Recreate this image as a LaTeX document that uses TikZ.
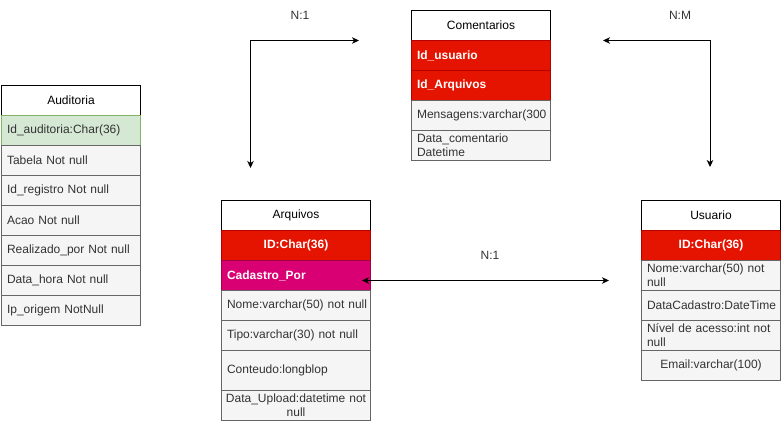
\documentclass[tikz,border=0pt]{standalone}
\usepackage{fontspec}
\setmainfont{Liberation Sans}
\usetikzlibrary{arrows.meta}
\definecolor{redfill}{HTML}{E51400}
\definecolor{redline}{HTML}{B20000}
\definecolor{magfill}{HTML}{D80073}
\definecolor{magline}{HTML}{A50040}
\definecolor{greenfill}{HTML}{D5E8D4}
\definecolor{greenline}{HTML}{82B366}
\definecolor{grayfill}{HTML}{F5F5F5}
\definecolor{grayline}{HTML}{666666}
\definecolor{txt}{HTML}{333333}
\begin{document}
\begin{tikzpicture}[x=1pt,y=-1pt,
  base/.style={anchor=north west, inner xsep=5.5pt, inner ysep=0pt, line width=1pt,
    font=\fontsize{12}{14}\selectfont, align=left},
  hdr/.style={base, draw=black, fill=white, text=black, align=center},
  row/.style={base, draw=grayline, fill=grayfill, text=txt},
  rowc/.style={row, align=center},
  pkg/.style={base, draw=greenline, fill=greenfill, text=txt},
  pk/.style={base, draw=redline, fill=redfill, text=white, font=\fontsize{12}{14}\selectfont\bfseries},
  pkc/.style={pk, align=center},
  fk/.style={base, draw=magline, fill=magfill, text=white, font=\fontsize{12}{14}\selectfont\bfseries},
  wA/.style={text width=128pt, minimum height=30pt},
  wB/.style={text width=138pt, minimum height=30pt},
  wBc/.style={inner xsep=0pt, text width=149pt, minimum height=30pt},
  tall/.style={minimum height=40pt},
  conn/.style={line width=1pt, {Stealth[length=7pt,width=6.5pt,inset=2pt]}-{Stealth[length=7pt,width=6.5pt,inset=2pt]}},
  lbl/.style={font=\fontsize{12}{14}\selectfont, text=txt, inner sep=0pt}
]
\useasboundingbox (0,0) rectangle (781,421);

% Auditoria
\node[hdr, wA] (aud) at (1,85) {Auditoria};
\node[pkg, wA] (aud1) at (1,115) {Id\_auditoria:Char(36)};
\node[row, wA] (aud2) at (1,145) {Tabela Not null};
\node[row, wA] (aud3) at (1,175) {Id\_registro Not null};
\node[row, wA] (aud4) at (1,205) {Acao Not null};
\node[row, wA] (aud5) at (1,235) {Realizado\_por Not null};
\node[row, wA] (aud6) at (1,265) {Data\_hora Not null};
\node[row, wA] (aud7) at (1,295) {Ip\_origem NotNull};

% Comentarios
\node[hdr, wA] (com) at (411,10) {Comentarios};
\node[pk, wA] (com1) at (411,40) {Id\_usuario};
\node[pk, wA] (com2) at (411,70) {Id\_Arquivos};
\node[row, wA] (com3) at (411,100) {\mbox{Mensagens:varchar(300}};
\node[row, wA] (com4) at (411,130) {Data\_comentario\\Datetime};

% Arquivos
\node[hdr, wB] (arq) at (221,200) {Arquivos};
\node[pkc, wB] (arq1) at (221,230) {ID:Char(36)};
\node[fk, wB] (arq2) at (221,260) {Cadastro\_Por};
\node[row, wB] (arq3) at (221,290) {\mbox{Nome:varchar(50) not null}};
\node[row, wB] (arq4) at (221,320) {Tipo:varchar(30) not null};
\node[row, wB, tall] (arq5) at (221,350) {Conteudo:longblop};
\node[rowc, wBc] (arq6) at (221,390) {\mbox{Data\_Upload:datetime not}\\null};

% Usuario
\node[hdr, wA] (usu) at (641,200) {Usuario};
\node[pkc, wA] (usu1) at (641,230) {ID:Char(36)};
\node[row, wA] (usu2) at (641,260) {Nome:varchar(50) not\\null};
\node[row, wA] (usu3) at (641,290) {\mbox{DataCadastro:DateTime}};
\node[row, wA] (usu4) at (641,320) {N\'ivel de acesso:int not\\null};
\node[rowc, wA] (usu5) at (641,350) {Email:varchar(100)};

% connectors
\coordinate (c1a) at (250.5,168);
\coordinate (c1b) at (359,40.5);
\draw[conn] (c1a) |- (c1b);
\node[lbl] (l1) at (300,15) {N:1};

\coordinate (c2a) at (710,167);
\coordinate (c2b) at (603,40.5);
\draw[conn] (c2a) |- (c2b);
\node[lbl] (l2) at (680,15) {N:M};

\coordinate (c3a) at (362,280.5);
\coordinate (c3b) at (609,280.5);
\draw[conn] (c3a) -- (c3b);
\node[lbl] (l3) at (490,255) {N:1};
\end{tikzpicture}
\end{document}
